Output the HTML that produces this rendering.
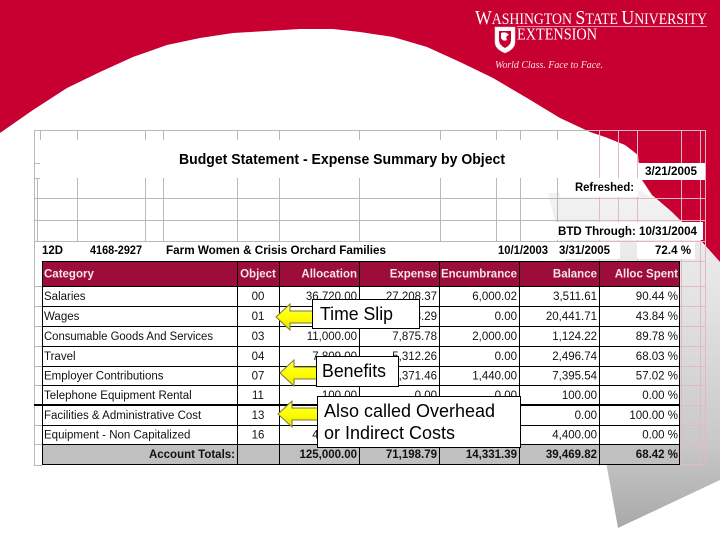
<!DOCTYPE html>
<html><head><meta charset="utf-8"><style>
html,body{margin:0;padding:0;background:#fff;}
svg{display:block;font-family:"Liberation Sans",Arial,sans-serif;}
.b{font-weight:bold;}
.t{font-size:11.5px;fill:#111;}
.h{font-size:11.5px;font-weight:bold;fill:#f6e4ea;}
.g{stroke:#b9b9b9;stroke-width:1;fill:none;}
.gr{stroke:#e2b8c4;stroke-width:1;fill:none;}
.k{stroke:#000;stroke-width:1;fill:none;}
.c{font-size:18px;fill:#000;}
</style></head><body>
<svg width="720" height="540" viewBox="0 0 720 540" xmlns="http://www.w3.org/2000/svg">
<defs>
<linearGradient id="gg" gradientUnits="userSpaceOnUse" x1="0" y1="190" x2="0" y2="530">
<stop offset="0" stop-color="#f3f3f3"/><stop offset="0.35" stop-color="#e2e2e2"/><stop offset="0.75" stop-color="#c8c8c8"/><stop offset="1" stop-color="#a8a8a8"/>
</linearGradient>
<linearGradient id="ay" x1="0" y1="0" x2="0" y2="1"><stop offset="0" stop-color="#ffff66"/><stop offset="0.5" stop-color="#ffff00"/><stop offset="1" stop-color="#e6e600"/></linearGradient>
</defs>
<rect width="720" height="540" fill="#fff"/>
<!-- gray shape -->
<polygon points="548,193 640,190 672,212 720,262 720,480 618,528 606,462 575,300" fill="url(#gg)"/>
<!-- red shape -->
<path fill="#c80032" d="M0,0 H720 V262 L703,243 L672,212 L652,195 L640,177 L638,155 L625,145 L605,137 L590,132 L560,118 L527,98 L493,78 L460,62 L427,47 L393,37 L360,32 L333,29 L300,29 L267,31 L233,33 L200,38 L167,45 L133,57 L100,72 L67,88 L33,110 L0,133 Z"/>

<!-- grid upper -->
<g class="g">
<line x1="34" y1="130.5" x2="600" y2="130.5"/>
<line x1="34.5" y1="130" x2="34.5" y2="466"/>
<line x1="40.5" y1="130" x2="40.5" y2="140"/>
<line x1="34" y1="163.5" x2="40" y2="163.5"/>
<line x1="34" y1="178.5" x2="40" y2="178.5"/>
<line x1="34" y1="198.5" x2="600" y2="198.5"/>
<line x1="34" y1="220.5" x2="600" y2="220.5"/>
<line x1="34" y1="241.5" x2="600" y2="241.5"/>
<line x1="34" y1="465.5" x2="42" y2="465.5"/>
<path d="M77.5,130V140M145.5,130V140M163.5,130V140M237.5,130V140M279.5,130V140M359.5,130V140M440.5,130V140M496.5,130V140M520.5,130V140M557.5,130V140"/>
<path d="M37.5,178V241M77.5,178V241M145.5,178V241M163.5,178V241M237.5,178V241M279.5,178V241M359.5,178V241M440.5,178V241M496.5,178V241M520.5,178V241M557.5,178V241"/>
<path d="M34,286.5H42M34,306.5H42M34,326.5H42M34,346.5H42M34,366.5H42M34,385.5H42M34,425.5H42M34,444.5H42"/>
</g>
<g class="gr">
<line x1="590" y1="130.5" x2="705" y2="130.5"/>
<path d="M599.5,130V466M618.5,130V466M637.5,130V466M681.5,130V466M700.5,130V466M705.5,130V466"/>
<path d="M600,198.5H705M600,220.5H705M600,241.5H705M680,261.5H705M680,286.5H705M680,306.5H705M680,326.5H705M680,346.5H705M680,366.5H705M680,385.5H705M680,405.5H705M680,425.5H705M680,444.5H705M680,464.5H705"/>
</g>

<!-- white label boxes -->
<rect x="638" y="163" width="67" height="17" fill="#fff"/>
<rect x="560" y="178" width="78" height="19" fill="#fff"/>
<rect x="555" y="222" width="148" height="18" fill="#fff"/>
<rect x="540" y="242" width="80" height="17" fill="#fff"/>
<rect x="637" y="242" width="58" height="17" fill="#fff"/>

<!-- upper text -->
<text x="179" y="164" class="b" font-size="14.5" textLength="326" lengthAdjust="spacingAndGlyphs">Budget Statement - Expense Summary by Object</text>
<text x="645" y="175" class="b" font-size="11.5" textLength="52" lengthAdjust="spacingAndGlyphs">3/21/2005</text>
<text x="575" y="191" class="b" font-size="11.5" textLength="59" lengthAdjust="spacingAndGlyphs">Refreshed:</text>
<text x="558" y="235" class="b" font-size="12" textLength="139" lengthAdjust="spacingAndGlyphs">BTD Through: 10/31/2004</text>
<text x="42" y="254" class="b" font-size="11.5" textLength="21" lengthAdjust="spacingAndGlyphs">12D</text>
<text x="90" y="254" class="b" font-size="11.5" textLength="52" lengthAdjust="spacingAndGlyphs">4168-2927</text>
<text x="166" y="254" class="b" font-size="11.5" textLength="220" lengthAdjust="spacingAndGlyphs">Farm Women &amp; Crisis Orchard Families</text>
<text x="498" y="254" class="b" font-size="11.5" textLength="50" lengthAdjust="spacingAndGlyphs">10/1/2003</text>
<text x="559" y="254" class="b" font-size="11.5" textLength="51" lengthAdjust="spacingAndGlyphs">3/31/2005</text>
<text x="655" y="254" class="b" font-size="11.5" textLength="36" lengthAdjust="spacingAndGlyphs">72.4 %</text>

<!-- table -->
<rect x="42" y="286" width="638" height="158" fill="#fff"/>
<rect x="42" y="261" width="638" height="25" fill="#9c0d3a"/>
<rect x="42" y="444" width="638" height="20" fill="#c0c0c0"/>
<g class="k">
<rect x="42.5" y="261.5" width="637" height="203"/>
<path d="M42,286.5H680M42,306.5H680M42,326.5H680M42,346.5H680M42,366.5H680M42,385.5H680M42,425.5H680M42,444.5H680"/>
<path d="M237.5,261V464M279.5,261V464M359.5,261V464M439.5,261V464M519.5,261V464M599.5,261V464"/>
</g>
<line x1="34" y1="405" x2="680" y2="405" stroke="#000" stroke-width="2"/>

<g class="h">
<text x="44" y="277.5">Category</text>
<text x="258" y="277.5" text-anchor="middle">Object</text>
<text x="357" y="277.5" text-anchor="end">Allocation</text>
<text x="437" y="277.5" text-anchor="end">Expense</text>
<text x="441" y="277.5" textLength="76" lengthAdjust="spacingAndGlyphs">Encumbrance</text>
<text x="597" y="277.5" text-anchor="end">Balance</text>
<text x="678" y="277.5" text-anchor="end">Alloc Spent</text>
</g>

<g class="t">
<text x="44" y="300">Salaries</text><text x="258" y="300" text-anchor="middle">00</text>
<text x="357" y="300" text-anchor="end">36,720.00</text><text x="437" y="300" text-anchor="end">27,208.37</text><text x="517" y="300" text-anchor="end">6,000.02</text><text x="597" y="300" text-anchor="end">3,511.61</text><text x="678" y="300" text-anchor="end">90.44 %</text>

<text x="44" y="320">Wages</text><text x="258" y="320" text-anchor="middle">01</text>
<text x="357" y="320" text-anchor="end">36,400.00</text><text x="437" y="320" text-anchor="end">15,958.29</text><text x="517" y="320" text-anchor="end">0.00</text><text x="597" y="320" text-anchor="end">20,441.71</text><text x="678" y="320" text-anchor="end">43.84 %</text>

<text x="44" y="340" textLength="169" lengthAdjust="spacingAndGlyphs">Consumable Goods And Services</text><text x="258" y="340" text-anchor="middle">03</text>
<text x="357" y="340" text-anchor="end">11,000.00</text><text x="437" y="340" text-anchor="end">7,875.78</text><text x="517" y="340" text-anchor="end">2,000.00</text><text x="597" y="340" text-anchor="end">1,124.22</text><text x="678" y="340" text-anchor="end">89.78 %</text>

<text x="44" y="360">Travel</text><text x="258" y="360" text-anchor="middle">04</text>
<text x="357" y="360" text-anchor="end">7,809.00</text><text x="437" y="360" text-anchor="end">5,312.26</text><text x="517" y="360" text-anchor="end">0.00</text><text x="597" y="360" text-anchor="end">2,496.74</text><text x="678" y="360" text-anchor="end">68.03 %</text>

<text x="44" y="379.5">Employer Contributions</text><text x="258" y="379.5" text-anchor="middle">07</text>
<text x="357" y="379.5" text-anchor="end">17,207.00</text><text x="437" y="379.5" text-anchor="end">8,371.46</text><text x="517" y="379.5" text-anchor="end">1,440.00</text><text x="597" y="379.5" text-anchor="end">7,395.54</text><text x="678" y="379.5" text-anchor="end">57.02 %</text>

<text x="44" y="399">Telephone Equipment Rental</text><text x="258" y="399" text-anchor="middle">11</text>
<text x="357" y="399" text-anchor="end">100.00</text><text x="437" y="399" text-anchor="end">0.00</text><text x="517" y="399" text-anchor="end">0.00</text><text x="597" y="399" text-anchor="end">100.00</text><text x="678" y="399" text-anchor="end">0.00 %</text>

<text x="44" y="419">Facilities &amp; Administrative Cost</text><text x="258" y="419" text-anchor="middle">13</text>
<text x="357" y="419" text-anchor="end">11,364.00</text><text x="437" y="419" text-anchor="end">6,472.63</text><text x="517" y="419" text-anchor="end">4,891.37</text><text x="597" y="419" text-anchor="end">0.00</text><text x="678" y="419" text-anchor="end">100.00 %</text>

<text x="44" y="438.5">Equipment - Non Capitalized</text><text x="258" y="438.5" text-anchor="middle">16</text>
<text x="357" y="438.5" text-anchor="end">4,400.00</text><text x="437" y="438.5" text-anchor="end">0.00</text><text x="517" y="438.5" text-anchor="end">0.00</text><text x="597" y="438.5" text-anchor="end">4,400.00</text><text x="678" y="438.5" text-anchor="end">0.00 %</text>
</g>
<g class="t b">
<text x="235" y="458" text-anchor="end">Account Totals:</text>
<text x="357" y="458" text-anchor="end">125,000.00</text><text x="437" y="458" text-anchor="end">71,198.79</text><text x="517" y="458" text-anchor="end">14,331.39</text><text x="597" y="458" text-anchor="end">39,469.82</text><text x="678" y="458" text-anchor="end">68.42 %</text>
</g>

<!-- arrows -->
<g fill="url(#ay)" stroke="#7a7a30" stroke-width="1">
<polygon points="276,317 290,304 290,311 313,311 313,323 290,323 290,330"/>
<polygon points="280,373 294,360 294,367 317,367 317,379 294,379 294,386"/>
<polygon points="278,414 292,401 292,408 318,408 318,420 292,420 292,427"/>
</g>
<!-- callout boxes -->
<g fill="#fff" stroke="#000" stroke-width="1">
<rect x="312.5" y="299.5" width="107" height="29"/>
<rect x="316.5" y="356.5" width="82" height="30"/>
<rect x="317.5" y="396.5" width="203" height="51"/>
</g>
<text x="320" y="320" class="c" textLength="73" lengthAdjust="spacingAndGlyphs">Time Slip</text>
<text x="322" y="377" class="c" textLength="64" lengthAdjust="spacingAndGlyphs">Benefits</text>
<text x="324" y="417" class="c" textLength="171" lengthAdjust="spacingAndGlyphs">Also called Overhead</text>
<text x="324" y="439" class="c" textLength="131" lengthAdjust="spacingAndGlyphs">or Indirect Costs</text>

<!-- logo -->
<g fill="#fff" font-family="'Liberation Serif','Times New Roman',serif">
<text x="475" y="24" textLength="232" lengthAdjust="spacingAndGlyphs"><tspan font-size="20">W</tspan><tspan font-size="15.5">ASHINGTON </tspan><tspan font-size="20">S</tspan><tspan font-size="15.5">TATE </tspan><tspan font-size="20">U</tspan><tspan font-size="15.5">NIVERSITY</tspan></text>
<text x="517" y="39.5" font-size="16.5" textLength="80" lengthAdjust="spacingAndGlyphs">EXTENSION</text>
<text x="495" y="68" font-size="10" font-style="italic" fill="#f7dfe5" textLength="108" lengthAdjust="spacingAndGlyphs">World Class. Face to Face.</text>
</g>
<line x1="517" y1="26.5" x2="707" y2="26.5" stroke="#f2c6d0" stroke-width="0.8"/>
<path d="M495,27 H515 V42 Q515,49 505,53 Q495,49 495,42 Z" fill="#fff" stroke="#e8c8d0" stroke-width="0.6"/>
<path d="M499,31 H511 V40 Q511,45 505,48 Q499,45 499,40 Z" fill="#c80032"/>
<path d="M501,33 Q506,31 509,35 Q505,36 507,40 Q503,42 501,38 Z" fill="#fff"/>
</svg>
</body></html>
